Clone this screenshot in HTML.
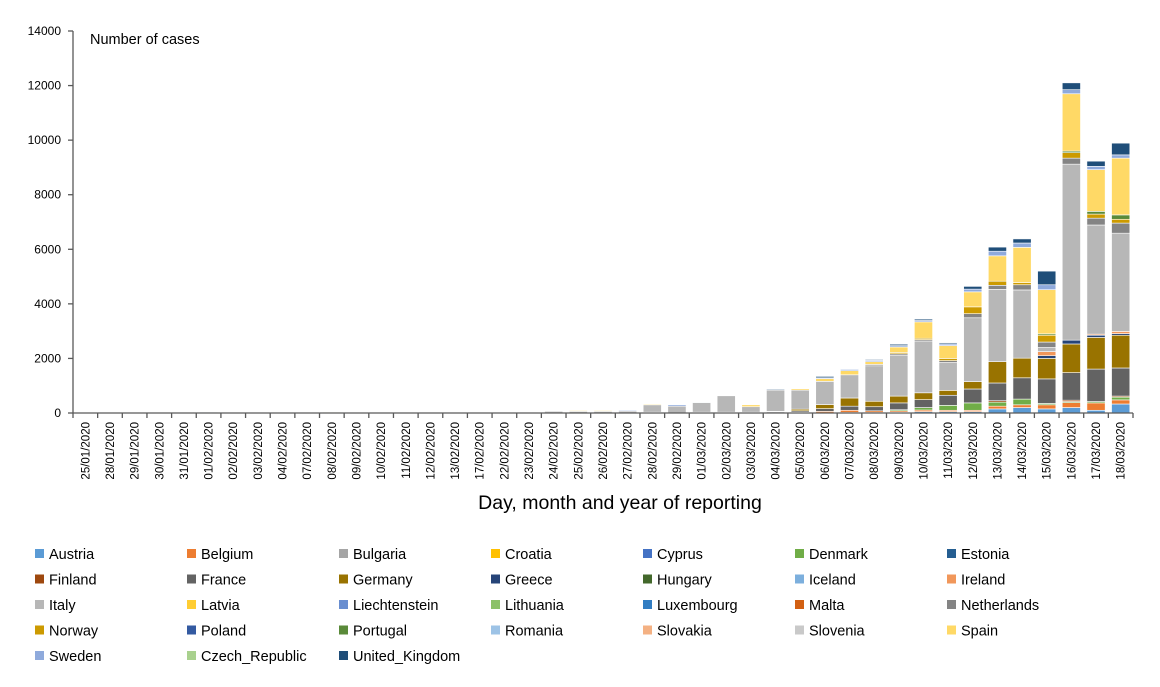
<!DOCTYPE html>
<html><head><meta charset="utf-8"><style>
body{margin:0;background:#fff;}
svg{display:block;font-family:"Liberation Sans",sans-serif;}
</style></head><body>
<svg id="chart" width="1160" height="687" viewBox="0 0 1160 687" xmlns="http://www.w3.org/2000/svg"></svg>
<script>
const dates=["25/01/2020","28/01/2020","29/01/2020","30/01/2020","31/01/2020","01/02/2020","02/02/2020","03/02/2020","04/02/2020","07/02/2020","08/02/2020","09/02/2020","10/02/2020","11/02/2020","12/02/2020","13/02/2020","17/02/2020","22/02/2020","23/02/2020","24/02/2020","25/02/2020","26/02/2020","27/02/2020","28/02/2020","29/02/2020","01/03/2020","02/03/2020","03/03/2020","04/03/2020","05/03/2020","06/03/2020","07/03/2020","08/03/2020","09/03/2020","10/03/2020","11/03/2020","12/03/2020","13/03/2020","14/03/2020","15/03/2020","16/03/2020","17/03/2020","18/03/2020"];
const countries=["Austria","Belgium","Bulgaria","Croatia","Cyprus","Denmark","Estonia","Finland","France","Germany","Greece","Hungary","Iceland","Ireland","Italy","Latvia","Liechtenstein","Lithuania","Luxembourg","Malta","Netherlands","Norway","Poland","Portugal","Romania","Slovakia","Slovenia","Spain","Sweden","Czech_Republic","United_Kingdom"];
const colors=["#5B9BD5","#ED7D31","#A5A5A5","#FFC000","#4472C4","#70AD47","#255E91","#9E480E","#636363","#997300","#264478","#43682B","#7CAFDD","#F1975A","#B7B7B7","#FFCD33","#698ED0","#8CC168","#327DC2","#D26012","#848484","#CC9A00","#335AA1","#5A8A39","#9DC3E6","#F4B183","#C9C9C9","#FFD966","#8FAADC","#A9D18E","#1F4E79"];
const yTicks=[0,2000,4000,6000,8000,10000,12000,14000];
function sp(o){const a=new Array(43).fill(0);for(const k in o)a[k]=o[k];return a;}
const austria=sp({30:10,31:20,32:20,33:30,34:50,35:50,36:50,37:150,38:200,39:150,40:200,41:100,42:330});
const belgium=sp({29:30,30:50,31:80,32:60,33:50,34:60,35:50,36:50,37:100,38:100,39:150,40:180,41:270,42:150});
const denmark=sp({33:40,34:90,35:180,36:270,37:150,38:210,39:50,40:40,41:50,42:100});
const finland=sp({37:50,40:50,42:40});
const france=sp({4:5,26:30,28:40,29:50,30:100,31:150,32:150,33:250,34:290,35:370,36:510,37:650,38:780,39:900,40:1010,41:1190,42:1030});
const germany=sp({4:20,5:10,10:30,23:30,25:30,27:30,28:20,29:60,30:150,31:300,32:200,33:250,34:250,35:180,36:270,37:780,38:720,39:750,40:1050,41:1160,42:1200});
const greece=sp({39:100,40:140,41:80,42:60});
const ireland=sp({39:150,41:40,42:80});
const italy=sp({18:20,19:60,20:60,21:60,22:70,23:270,24:250,25:350,26:600,27:200,28:780,29:700,30:850,31:850,32:1300,33:1500,34:1900,35:1020,36:2340,37:2650,38:2500,39:150,40:6450,41:4000,42:3600});
const netherlands=sp({32:50,33:50,34:50,35:70,36:150,37:150,38:190,39:200,40:220,41:250,42:370});
const norway=sp({33:50,34:50,35:80,36:250,37:150,38:80,39:250,40:200,41:150,42:140});
const portugal=sp({39:50,40:60,41:100,42:160});
const spain=sp({20:30,21:30,23:30,27:70,29:50,30:100,31:150,32:100,33:200,34:600,35:470,36:550,37:930,38:1290,39:1620,40:2100,41:1530,42:2080});
const sweden=sp({22:30,24:50,30:30,31:50,32:50,33:50,34:50,35:60,36:100,37:170,38:160,39:180,40:150,41:120,42:120});
const uk=sp({4:5,5:10,25:20,28:30,29:20,30:50,31:20,32:30,33:50,34:50,35:40,36:100,37:150,38:150,39:500,40:250,41:190,42:430});
const zero=new Array(43).fill(0);
const series={Austria:austria,Belgium:belgium,Denmark:denmark,Finland:finland,France:france,Germany:germany,Greece:greece,Ireland:ireland,Italy:italy,Netherlands:netherlands,Norway:norway,Portugal:portugal,Spain:spain,Sweden:sweden,United_Kingdom:uk};

const svg=document.getElementById('chart');
const NS="http://www.w3.org/2000/svg";
function mk(t,a,p){const e=document.createElementNS(NS,t);for(const k in a)e.setAttribute(k,a[k]);(p||svg).appendChild(e);return e;}
const y0=413,y1=31,x0=73,x1=1133;
const ys=v=>y0-(v/14000)*(y0-y1);
const step=(x1-x0)/dates.length;
const xs=i=>x0+step*(i+0.5);
const bw=step*0.74;

// axes
const yl=mk('line',{x1:x0,y1:y1,x2:x0,y2:y0,stroke:'#595959','stroke-width':1.3});


yTicks.forEach(v=>{
  const y=ys(v);
  mk('line',{x1:x0-5,y1:y,x2:x0,y2:y,stroke:'#595959','stroke-width':1.3});
  const t=mk('text',{x:x0-12,y:y+4,'text-anchor':'end','font-size':12,fill:'#000'});
  t.textContent=v;
  
  
});
// bars
dates.forEach((d,i)=>{
  let acc=0;
  countries.forEach((c,ci)=>{
    const v=(series[c]||zero)[i];
    if(!v)return;
    const r=mk('rect',{x:xs(i)-bw/2,y:ys(acc+v),width:bw,height:ys(acc)-ys(acc+v),fill:colors[ci],stroke:'#fff','stroke-width':0.6});
    
    
    acc+=v;
  });
});
const xl=mk('line',{x1:x0,y1:y0,x2:x1,y2:y0,stroke:'#595959','stroke-width':1.3});


dates.forEach((d,i)=>{
  const xt=x0+step*i;
  mk('line',{x1:xt,y1:y0,x2:xt,y2:y0+5,stroke:'#595959','stroke-width':1.3});
  const x=xs(i)+4;
  const t=mk('text',{x:x,y:422,transform:`rotate(-90 ${x} 422)`,'text-anchor':'end','font-size':11.5,fill:'#000'});
  t.textContent=d;
  
  
});
mk('line',{x1:x1,y1:y0,x2:x1,y2:y0+5,stroke:'#595959','stroke-width':1.3});
// titles
const yt=mk('text',{x:90,y:44,'font-size':14.5,fill:'#000'});
yt.textContent='Number of cases';


const xt=mk('text',{x:620,y:509,'text-anchor':'middle','font-size':19.5,fill:'#000'});
xt.textContent='Day, month and year of reporting';


// legend
countries.forEach((c,i)=>{
  const col=i%7,row=Math.floor(i/7);
  const lx=35+col*152,ly=554+row*25.5;
  const g=mk('g',{});
  
  
  mk('rect',{x:lx,y:ly-5,width:9,height:9,fill:colors[i]},g);
  const t=mk('text',{x:lx+14,y:ly+5,'font-size':14.5,fill:'#000'},g);
  t.textContent=c;
});
</script>
</body></html>
